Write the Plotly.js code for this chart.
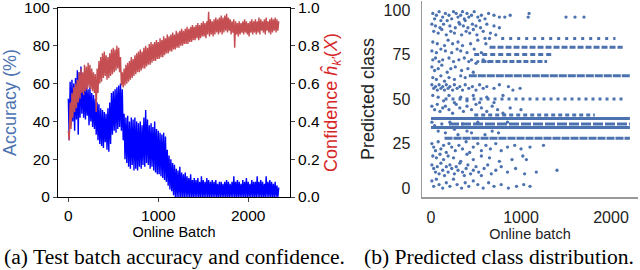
<!DOCTYPE html>
<html><head><meta charset="utf-8">
<script src="https://cdn.plot.ly/plotly-3.0.1.min.js"></script>
<style>html,body{margin:0;padding:0;background:#fff}#chart{width:640px;height:270px}</style>
</head><body><div id="chart"></div><script>
// (a) samples every 10 online batches
const batchStep = 10;
const accuracy = [52,30,61,38,62,40,60,35,63,41,67,33,66,42,69,44,64,42,60,41,
58,43,57,38,58,40,55,37,54,36,52,33,50,30,49,28,47,27,46,26,
45,29,44,25,47,24,50,28,55,33,56,35,57,34,58,36,59,37,60,35,
57,30,44,20,42,18,43,16,40,15,42,17,41,14,42,15,40,14,39,16,
40,15,38,17,42,16,46,18,41,17,38,15,39,16,37,14,40,13,36,12,
35,12,34,11,33,10,34,9,32,8,25,6,22,4,20,3,18,1,17,0,
15,0,14,0,16,0,13,0,12,0,13,0,11,0,10,0,12,0,9,0,
10,0,9,0,10,0,8,0,11,0,9,0,8,0,10,0,9,0,8,0,
9,0,8,0,9,0,7,0,8,0,8,0,7,0,8,0,9,0,8,0,
7,0,8,0,11,0,8,0,9,0,8,0,7,0,9,0,8,0,10,0,
8,0,7,0,9,0,8,0,8,0,11,0,8,0,9,0,8,0,7,0,
11,0,8,0,9,0,8,0,7,0,8,0,6,0,5];
const confidence = [.35,.30,.50,.36,.55,.42,.58,.45,.60,.47,.62,.50,.66,.52,.68,.55,.66,.54,.70,.56,
.69,.57,.71,.58,.70,.57,.68,.56,.66,.55,.65,.45,.68,.55,.72,.60,.74,.61,.76,.63,
.77,.64,.75,.62,.74,.63,.76,.64,.78,.65,.79,.66,.78,.67,.80,.68,.79,.66,.74,.59,
.66,.58,.68,.59,.70,.60,.71,.61,.72,.62,.74,.63,.73,.64,.75,.65,.76,.66,.77,.66,
.78,.67,.77,.68,.79,.68,.80,.69,.79,.70,.81,.70,.82,.71,.81,.72,.82,.72,.83,.73,
.82,.73,.84,.74,.83,.74,.85,.75,.84,.76,.86,.76,.85,.77,.86,.77,.87,.78,.86,.78,
.88,.79,.87,.79,.88,.80,.89,.80,.88,.81,.89,.81,.90,.81,.89,.82,.90,.82,.91,.83,
.90,.83,.91,.84,.92,.83,.91,.84,.92,.85,.93,.85,.92,.84,.93,.86,.98,.85,.94,.86,
.93,.85,.94,.86,.95,.87,.94,.86,.95,.87,.96,.86,.95,.87,.96,.88,.97,.87,.95,.88,
.94,.86,.93,.87,.94,.79,.93,.86,.92,.85,.93,.86,.92,.87,.93,.86,.94,.87,.93,.86,
.92,.85,.93,.87,.94,.86,.93,.87,.94,.86,.93,.87,.95,.86,.94,.88,.93,.87,.94,.86,
.95,.88,.93,.87,.94,.86,.95,.87,.94,.88,.95,.87,.94,.88,.93];

// (b) scattered predictions (online batch, predicted class)
const scatterBatch = [20,60,90,130,160,200,230,250,280,300,330,350,370,400,420,450,480,520,560,600,640,700,760,820,880,1080,1090,1500,1600,1700,40,110,180,310,380,540,
10,50,100,140,210,270,320,360,410,460,500,550,620,700,760,
30,80,120,170,220,260,340,390,430,470,510,580,660,720,600,650,
20,70,150,190,240,300,350,440,520,610,
10,60,110,160,230,290,330,400,480,560,
20,50,90,130,200,250,310,370,420,450,500,520,580,640,
10,40,80,120,180,220,270,340,410,470,
20,60,110,150,200,260,330,380,
10,30,50,70,90,110,130,150,170,190,210,240,260,290,320,350,380,420,460,500,540,580,620,700,760,860,910,990,
20,80,140,200,260,330,400,470,540,620,700,800,
10,40,70,100,130,160,200,240,280,320,360,400,450,500,560,620,680,740,800,880,1000,
10,40,80,120,160,210,260,300,350,400,450,520,600,680,750,850,
10,30,50,80,110,140,170,200,230,270,310,350,390,430,470,520,560,610,660,720,780,850,930,1000,1100,1250,
20,60,100,140,190,250,330,400,470,560,650,760,900,1020,1060,
10,30,50,70,90,110,130,150,170,190,210,230,260,280,300,320,350,370,390,410,440,470,500,530,560,590,630,670,720,780,850,940,1040,1170,1400,
10,30,60,90,130,170,210,250,290,340,380,420,470,520,580,640,700,780,860,950,1030,1100];
const scatterClass = [98,97,99,96,98,97,95,99,98,96,97,99,95,98,96,97,99,96,97,95,98,97,96,96,97,96,98,96,96,96,95,94,94,93,94,94,
92,91,90,92,91,90,92,91,90,92,91,90,92,91,90,
88,87,89,86,88,87,86,88,87,89,86,88,87,86,84,84,
82,81,80,83,81,82,80,81,83,81,
77,76,78,77,76,78,77,76,78,76,
72,73,71,72,73,71,72,73,71,72,70,71,72,71,
68,66,67,69,65,67,68,66,67,65,
62,61,63,60,62,61,63,62,
58,56,57,55,58,56,57,55,58,56,57,55,58,56,57,55,58,56,57,55,58,56,57,56,58,57,55,56,
52,51,49,52,48,51,49,52,48,51,48,52,
46,44,47,43,45,46,44,42,47,45,43,46,44,47,45,43,46,44,42,45,44,
37,35,32,36,31,37,33,30,36,32,31,37,30,32,31,37,
25,23,21,26,22,24,20,25,23,21,24,22,26,20,23,25,21,24,22,25,21,23,24,22,23,24,
18,17,19,16,18,17,15,19,16,18,17,15,16,18,16,
13,11,9,12,8,14,10,7,12,9,13,11,8,12,10,14,9,7,11,13,8,10,12,9,7,11,13,8,10,12,9,11,8,9,10,
4,1,5,2,0,3,1,5,2,0,3,1,4,2,0,3,1,2,0,1,2,1];

// (b) classes predicted persistently: class, first and last online batch
const rowClass = [84,79,75,71,63,50,41,39,36,34,28];
const rowStart = [780,650,480,560,420,150,480,0,200,0,150];
const rowEnd   = [2050,2130,1360,1290,2210,2170,1820,2210,2210,2210,2210];
// styles (how densely each persistent class is drawn)
const rowDash  = ['3px,5px','6px,2px','5px,3px','5px,2px','8px,1px','3px,4px','4px,3px','solid','10px,2px','solid','8px,1px'];

const BLUE_PTS = '#4c72b0';
const batches = accuracy.map((_, i) => i * batchStep);

const traces = [
  {x: batches, y: accuracy, type: 'scatter', mode: 'lines', line: {color: '#0000ff', width: 1.4}, xaxis: 'x', yaxis: 'y', hoverinfo: 'skip'},
  {x: batches, y: confidence, type: 'scatter', mode: 'lines', line: {color: '#c44e52', width: 1.4}, xaxis: 'x', yaxis: 'y2', hoverinfo: 'skip'}
];
rowClass.forEach((c, i) => {
  traces.push({x: [rowStart[i], rowEnd[i]], y: [c, c], type: 'scatter', mode: 'lines',
    line: {color: BLUE_PTS, width: 3, dash: rowDash[i]}, xaxis: 'x3', yaxis: 'y3', hoverinfo: 'skip'});
});
traces.push({x: scatterBatch, y: scatterClass, type: 'scatter', mode: 'markers',
  marker: {color: BLUE_PTS, size: 3.3}, xaxis: 'x3', yaxis: 'y3', hoverinfo: 'skip'});

const FAM = 'Liberation Sans, Arial, sans-serif';
const TF = {family: FAM, size: 15.5, color: '#000'};
const common = {showgrid: false, zeroline: false, ticklabeloverflow: 'allow'};
const layout = {
  width: 640, height: 270, margin: {l: 0, r: 0, t: 0, b: 0},
  paper_bgcolor: '#fff', plot_bgcolor: '#fff', showlegend: false,
  font: {family: FAM, size: 14, color: '#000'},
  xaxis: Object.assign({domain: [58/640, 290/640], range: [-115, 2465], tickvals: [0, 1000, 2000],
    showline: true, linecolor: '#000', linewidth: 1, mirror: true, ticks: 'outside', ticklen: 4,
    tickfont: TF, anchor: 'y',
    title: {text: 'Online Batch', font: {size: 14.5, color: '#000'}, standoff: 0}}, common),
  yaxis: Object.assign({domain: [73/270, 262/270], range: [0, 100], dtick: 20,
    showline: true, linecolor: '#000', linewidth: 1, ticks: 'outside', ticklen: 4,
    tickfont: TF, anchor: 'x',
    title: {text: 'Accuracy (%)', font: {size: 18, color: '#4c72b0'}, standoff: 10}}, common),
  yaxis2: Object.assign({overlaying: 'y', side: 'right', anchor: 'x', range: [0, 1], dtick: 0.2, tickformat: '.1f',
    showline: true, linecolor: '#000', linewidth: 1, ticks: 'outside', ticklen: 4,
    tickfont: TF,
    title: {text: 'Confidence <i>ĥ</i><sub><i>k′</i></sub>(<i>X</i>)', font: {size: 18, color: '#d62728'}, standoff: 2}}, common),
  xaxis3: Object.assign({domain: [422/640, 638/640], range: [-100, 2300], tickvals: [0, 1000, 2000], anchor: 'y3',
    showline: true, linecolor: '#999', linewidth: 1.5, ticks: 'outside', ticklen: 5, tickcolor: 'rgba(0,0,0,0)',
    tickfont: {family: FAM, size: 16, color: '#222'},
    title: {text: 'Online batch', font: {size: 14.5, color: '#222'}, standoff: 0}}, common),
  yaxis3: Object.assign({domain: [73/270, 269/270], range: [-5, 105], tickvals: [0, 25, 50, 75, 100], anchor: 'x3',
    showline: true, linecolor: '#999', linewidth: 1.5, ticks: 'outside', ticklen: 7, tickcolor: 'rgba(0,0,0,0)',
    tickfont: {family: FAM, size: 16, color: '#222'},
    title: {text: 'Predicted class', font: {size: 18, color: '#222'}, standoff: 4}}, common),
  annotations: [
    {text: '(a) Test batch accuracy and confidence.', xref: 'paper', yref: 'paper', x: 174/640, y: 13/270,
      xanchor: 'center', yanchor: 'middle', showarrow: false,
      font: {family: 'Liberation Serif, Times New Roman, serif', size: 21.6, color: '#000'}},
    {text: '(b) Predicted class distribution.', xref: 'paper', yref: 'paper', x: 499/640, y: 13/270,
      xanchor: 'center', yanchor: 'middle', showarrow: false,
      font: {family: 'Liberation Serif, Times New Roman, serif', size: 21.6, color: '#000'}}
  ]
};
Plotly.newPlot('chart', traces, layout, {staticPlot: true, displayModeBar: false});
</script></body></html>
